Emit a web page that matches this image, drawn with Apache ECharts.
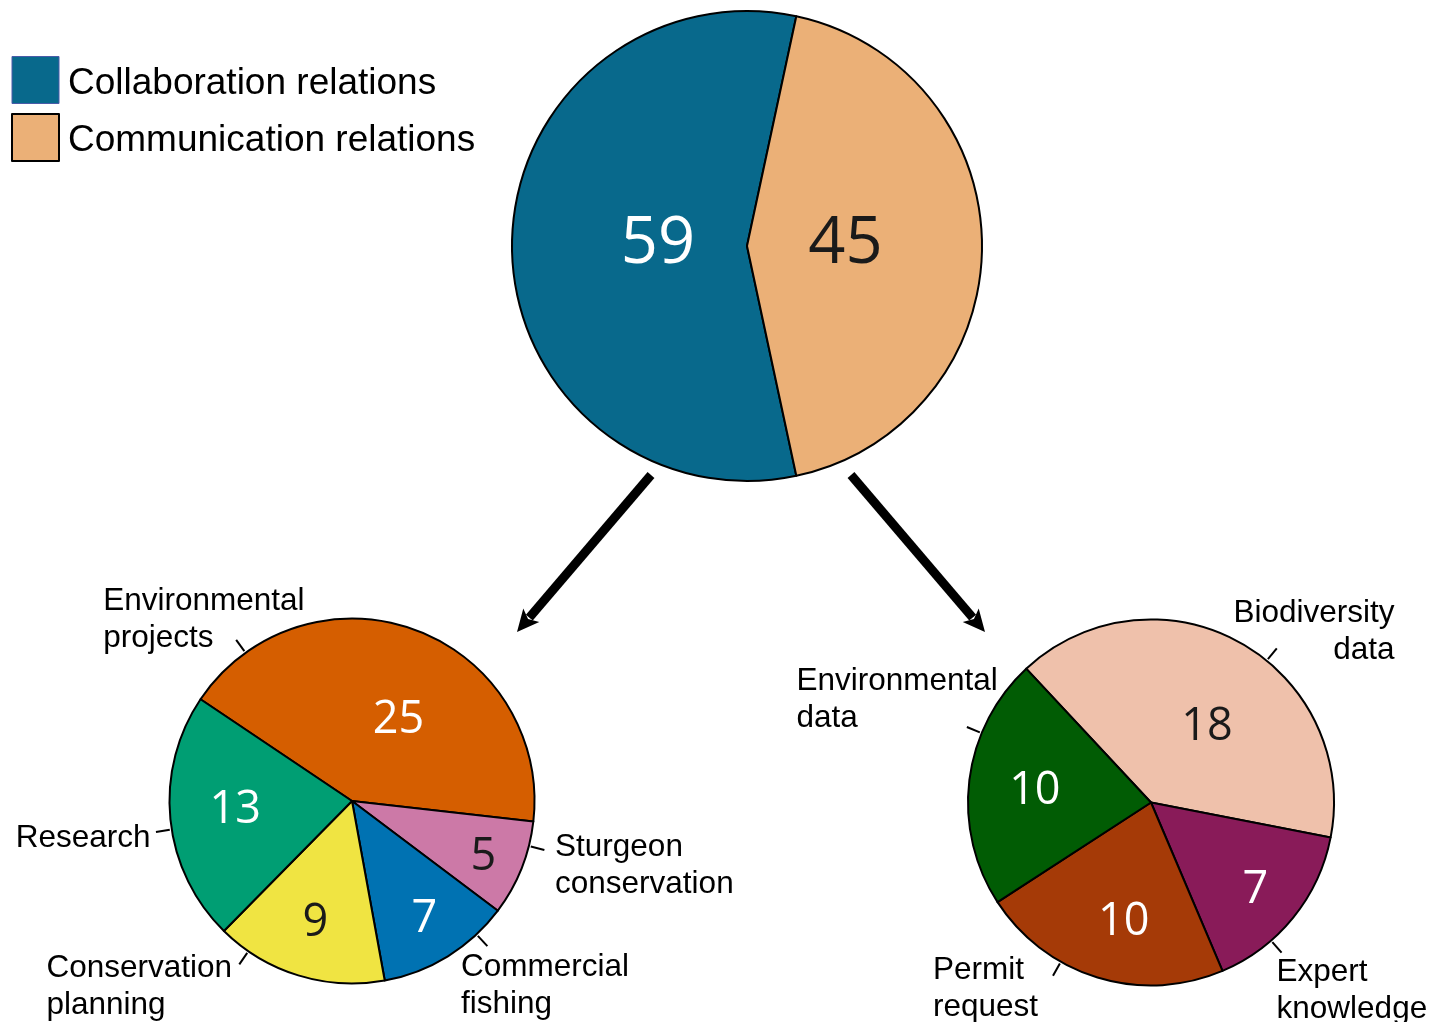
<!DOCTYPE html>
<html>
<head>
<meta charset="utf-8">
<script src="https://cdn.jsdelivr.net/npm/echarts@6/dist/echarts.min.js"></script>
<style>
html,body{margin:0;padding:0;background:#ffffff;}
#chart{width:1455px;height:1022px;}
</style>
</head>
<body>
<div id="chart"></div>
<script>
// ---------------- DATA ----------------
const topCategories = ['Collaboration relations', 'Communication relations'];
const topValues = [59, 45];

const collabCategories = ['Environmental projects', 'Sturgeon conservation', 'Commercial fishing', 'Conservation planning', 'Research'];
const collabValues = [25, 5, 7, 9, 13];
const collabLabels = ['Environmental\nprojects', 'Sturgeon\nconservation', 'Commercial\nfishing', 'Conservation\nplanning', 'Research'];

const commCategories = ['Biodiversity data', 'Expert knowledge', 'Permit request', 'Environmental data'];
const commValues = [18, 7, 10, 10];
const commLabels = ['Biodiversity\ndata', 'Expert\nknowledge', 'Permit\nrequest', 'Environmental\ndata'];

// ---------------- STYLE ----------------
const topColors = ['#08698c', '#ebb077'];
const topNumColors = ['#ffffff', '#1a1a1a'];
const collabColors = ['#d55e00', '#cc79a7', '#0072b2', '#f0e442', '#009e73'];
const collabNumColors = ['#ffffff', '#1a1a1a', '#ffffff', '#1a1a1a', '#ffffff'];
const commColors = ['#efc1ab', '#891b59', '#a53a07', '#015c04'];
const commNumColors = ['#1a1a1a', '#ffffff', '#ffffff', '#ffffff'];

const LABEL_FONT = "'Liberation Sans', Arial, Helvetica, sans-serif";
const NUM_FONT = "'Open Sans', 'Noto Sans', sans-serif";

// ---------------- LAYOUT ----------------
const sum = a => a.reduce((s, v) => s + v, 0);
const PIE_TOP = { center: [747, 246], r: 235, start: 360 - 180 * topValues[1] / sum(topValues) };
const PIE_LEFT = { center: [352, 801], r: 182.5, start: 146.1 };
const PIE_RIGHT = { center: [1151, 802.5], r: 183, start: 133 };

// inside number placement: [fraction of radius, angle offset from slice mid-angle]
const topNumPos = [[0.38, -4.8], [0.42, 4.35]];
const collabNumPos = [[0.53, -8.6], [0.774, 0], [0.74, 0.7], [0.68, 0], [0.64, -3]];
const commNumPos = [[0.53, -6.3], [0.73, 0.4], [0.65, 3.7], [0.64, -0.4]];

// outside label placement: tick angle and text anchor offset from tick end
const collabOuter = [
  { tick: 125.7, dx: -133, dy: -20, align: 'left' },
  { tick: -14.3, dx: 10.7, dy: 16, align: 'left' },
  { tick: -47, dx: -26.4, dy: 40, align: 'left' },
  { tick: -124.6, dx: -192.8, dy: 22, align: 'left' },
  { tick: 189, dx: -5.5, dy: 6.3, align: 'right' }
];
const commOuter = [
  { tick: 50.8, dx: 117.7, dy: -16, align: 'right' },
  { tick: -49, dx: -5, dy: 38, align: 'left' },
  { tick: -119.5, dx: -120, dy: 13.3, align: 'left' },
  { tick: 157.7, dx: -170.5, dy: -26.7, align: 'left' }
];

function midAngles(values, start) {
  const total = sum(values);
  let a = start;
  return values.map(v => {
    const span = v / total * 360;
    const m = a - span / 2;
    a -= span;
    return m;
  });
}
function polar(c, r, deg) {
  const t = deg * Math.PI / 180;
  return [c[0] + r * Math.cos(t), c[1] - r * Math.sin(t)];
}

function numberSeries(pie, values, names, colors, numColors, numPos, fontSize) {
  const mids = midAngles(values, pie.start);
  return {
    type: 'pie',
    center: pie.center,
    radius: [0, pie.r],
    startAngle: pie.start,
    clockwise: true,
    avoidLabelOverlap: false,
    silent: true,
    animation: false,
    itemStyle: { borderColor: '#000', borderWidth: 2 },
    emphasis: { disabled: true },
    data: values.map((v, i) => ({
      name: names[i], value: v,
      itemStyle: { color: colors[i] },
      label: { color: numColors[i] }
    })),
    label: {
      show: true,
      position: 'inside',
      formatter: '{c}',
      fontFamily: NUM_FONT,
      fontSize: fontSize,
      textBorderWidth: 0
    },
    labelLine: { show: false },
    labelLayout: function (p) {
      const cfg = numPos[p.dataIndex];
      const pt = polar(pie.center, pie.r * cfg[0], mids[p.dataIndex] + cfg[1]);
      return { x: pt[0], y: pt[1] + 0.09 * fontSize, align: 'center', verticalAlign: 'middle' };
    }
  };
}

function outerLabelSeries(pie, values, names, texts, outer) {
  return {
    type: 'pie',
    center: pie.center,
    radius: [0, pie.r],
    startAngle: pie.start,
    clockwise: true,
    avoidLabelOverlap: false,
    silent: true,
    animation: false,
    z: 5,
    itemStyle: { color: 'transparent', borderWidth: 0 },
    emphasis: { disabled: true },
    data: values.map((v, i) => ({ name: names[i] + ' ', value: v })),
    label: {
      show: true,
      position: 'outside',
      formatter: p => texts[p.dataIndex],
      fontFamily: LABEL_FONT,
      fontSize: 31.5,
      lineHeight: 37,
      color: '#000',
      textBorderWidth: 0
    },
    labelLine: { show: true, length: 10, length2: 0, lineStyle: { color: '#000', width: 2 } },
    labelLayout: function (p) {
      const cfg = outer[p.dataIndex];
      const inner = polar(pie.center, pie.r + 2, cfg.tick);
      const out = polar(pie.center, pie.r + 16, cfg.tick);
      return {
        x: out[0] + cfg.dx, y: out[1] + cfg.dy,
        align: cfg.align, verticalAlign: 'middle',
        labelLinePoints: [inner, out]
      };
    }
  };
}

// arrows (decoration)
function arrow(from, to) {
  const dx = to[0] - from[0], dy = to[1] - from[1];
  const len = Math.hypot(dx, dy);
  const u = [dx / len, dy / len], n = [-u[1], u[0]];
  const base = [to[0] - 22 * u[0], to[1] - 22 * u[1]];
  const notch = [to[0] - 17 * u[0], to[1] - 17 * u[1]];
  const shaftEnd = [to[0] - 19 * u[0], to[1] - 19 * u[1]];
  return [
    { type: 'line', silent: true, shape: { x1: from[0], y1: from[1], x2: shaftEnd[0], y2: shaftEnd[1] },
      style: { stroke: '#000', lineWidth: 9, lineCap: 'butt' } },
    { type: 'polygon', silent: true, shape: { points: [to,
        [base[0] + 10.5 * n[0], base[1] + 10.5 * n[1]], notch,
        [base[0] - 10.5 * n[0], base[1] - 10.5 * n[1]]] },
      style: { fill: '#000' } }
  ];
}

const chart = echarts.init(document.getElementById('chart'), null, { renderer: 'canvas' });
chart.setOption({
  backgroundColor: '#ffffff',
  animation: false,
  tooltip: { show: false },
  legend: {
    show: true,
    orient: 'vertical',
    left: 11,
    top: 56,
    padding: 0,
    icon: 'rect',
    itemWidth: 47,
    itemHeight: 47,
    itemGap: 9,
    selectedMode: false,
    data: [
      { name: topCategories[0], itemStyle: { borderColor: '#4a5ba8', borderWidth: 1 } },
      { name: topCategories[1], itemStyle: { borderColor: '#000', borderWidth: 2 } }
    ],
    formatter: name => '{t|' + name + '}',
    textStyle: {
      fontFamily: LABEL_FONT, fontSize: 37, color: '#000',
      rich: { t: { fontFamily: LABEL_FONT, fontSize: 37, color: '#000', padding: [7, 0, 0, 4] } }
    }
  },
  graphic: [].concat(arrow([651, 475], [517, 632]), arrow([851, 475], [985, 632])),
  series: [
    numberSeries(PIE_TOP, topValues, topCategories, topColors, topNumColors, topNumPos, 65),
    numberSeries(PIE_LEFT, collabValues, collabCategories, collabColors, collabNumColors, collabNumPos, 45),
    numberSeries(PIE_RIGHT, commValues, commCategories, commColors, commNumColors, commNumPos, 45),
    outerLabelSeries(PIE_LEFT, collabValues, collabCategories, collabLabels, collabOuter),
    outerLabelSeries(PIE_RIGHT, commValues, commCategories, commLabels, commOuter)
  ]
});
</script>
</body>
</html>
